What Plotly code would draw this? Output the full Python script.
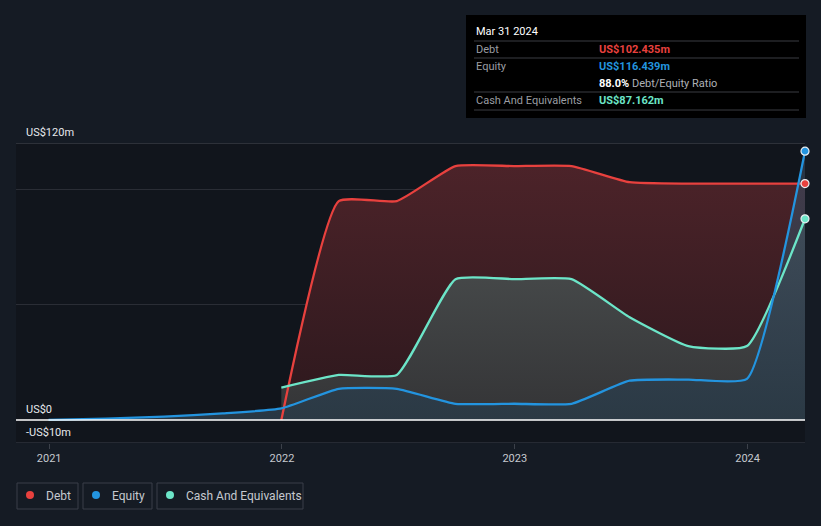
import plotly.graph_objects as go

# ---------------- data (US$ millions) ----------------
equity_dates = ["2020-12-31", "2021-03-31", "2021-06-30", "2021-09-30", "2021-12-31",
                "2022-03-31", "2022-06-30", "2022-09-30", "2022-12-31", "2023-03-31",
                "2023-06-30", "2023-09-30", "2023-12-31", "2024-03-31"]
equity_values = [0.0, 0.6, 1.4, 2.8, 5.0, 13.5, 13.5, 7.0, 7.0, 7.0, 17.0, 17.5, 17.8, 116.439]

debt_dates = ["2021-12-31", "2022-03-31", "2022-06-30", "2022-09-30", "2022-12-31",
              "2023-03-31", "2023-06-30", "2023-09-30", "2023-12-31", "2024-03-31"]
debt_values = [0.0, 94.8, 94.8, 110.0, 110.0, 110.0, 103.0, 102.4, 102.4, 102.435]

cash_dates = ["2021-12-31", "2022-03-31", "2022-06-30", "2022-09-30", "2022-12-31",
              "2023-03-31", "2023-06-30", "2023-09-30", "2023-12-31", "2024-03-31"]
cash_values = [14.0, 19.5, 19.5, 61.0, 61.0, 61.0, 44.5, 32.0, 32.0, 87.162]

y_labels = {120: "US$120m", 0: "US$0", -10: "-US$10m"}
x_ticks = ["2021-01-01", "2022-01-01", "2023-01-01", "2024-01-01"]
x_tick_text = ["2021", "2022", "2023", "2024"]

RED = "#e8413e"
BLUE = "#2394df"
TEAL = "#6ce5c8"
BG = "#151b24"
FONT = "Roboto, 'Open Sans', sans-serif"
SMOOTH = 0.45

W, H = 821, 526
L, R, T, B = 16, 16, 143, 83
PW, PH = W - L - R, H - T - B


def px(x):
    return (x - L) / PW


def py(y):
    return (H - B - y) / PH


series = [
    ("Debt", debt_dates, debt_values, RED,
     [[0, "rgba(44,24,29,1)"], [1, "rgba(76,35,41,1)"]]),
    ("Cash And Equivalents", cash_dates, cash_values, TEAL,
     [[0, "rgba(52,53,55,0.97)"], [1, "rgba(76,82,82,0.95)"]]),
    ("Equity", equity_dates, equity_values, BLUE,
     [[0, "rgba(42,58,70,0.92)"], [1, "rgba(60,78,100,0.55)"]]),
]

fig = go.Figure()

# area fills first
for name, dates, vals, col, cs in series:
    fig.add_trace(go.Scatter(
        x=dates, y=vals, mode="lines", name=name,
        line=dict(color="rgba(0,0,0,0)", width=0, shape="spline", smoothing=SMOOTH),
        fill="tozeroy", fillgradient=dict(type="vertical", colorscale=cs),
        hoverinfo="skip", showlegend=False))

# lines on top
for name, dates, vals, col, cs in series:
    fig.add_trace(go.Scatter(
        x=dates, y=vals, mode="lines", name=name,
        line=dict(color=col, width=2.3, shape="spline", smoothing=SMOOTH),
        hoverinfo="skip", showlegend=False))

# end markers
for name, dates, vals, col, cs in series:
    fig.add_trace(go.Scatter(
        x=[dates[-1]], y=[vals[-1]], mode="markers",
        marker=dict(color=col, size=8, line=dict(color="#e8eef2", width=1.2)),
        cliponaxis=False, hoverinfo="skip", showlegend=False))

shapes = []
annotations = []

# top / zero / bottom lines
shapes.append(dict(type="line", xref="paper", yref="y", x0=0, x1=1, y0=120, y1=120,
                   line=dict(color="#4a4f57", width=1)))
shapes.append(dict(type="line", xref="paper", yref="y", x0=0, x1=1, y0=0, y1=0,
                   line=dict(color="#ffffff", width=1.5), layer="above"))
shapes.append(dict(type="line", xref="paper", yref="y", x0=0, x1=1, y0=-10, y1=-10,
                   line=dict(color="#3c414a", width=1.2)))

for val, txt in y_labels.items():
    annotations.append(dict(xref="paper", yref="y", x=px(24), y=val, text=txt,
                            showarrow=False, xanchor="left", yanchor="bottom", yshift=2,
                            font=dict(family=FONT, size=11, color="#e6e9ed")))

# tooltip box
shapes.append(dict(type="rect", xref="paper", yref="paper", x0=px(466), x1=px(806),
                   y0=py(118), y1=py(15), fillcolor="#000000", line=dict(width=0), layer="above"))
for ly in [41, 58, 92, 110]:
    shapes.append(dict(type="line", xref="paper", yref="paper", x0=px(474), x1=px(799),
                       y0=py(ly), y1=py(ly), line=dict(color="#3a3d42", width=1), layer="above"))

def tip(x, y, text, color, size=11):
    annotations.append(dict(xref="paper", yref="paper", x=px(x), y=py(y), text=text,
                            showarrow=False, xanchor="left", yanchor="middle",
                            font=dict(family=FONT, size=size, color=color)))

tip(474, 31, "Mar 31 2024", "#ffffff", 11)
tip(474, 49, "Debt", "#9a9da2")
tip(597, 49, "<b>US$%.3fm</b>" % debt_values[-1], RED)
tip(474, 66, "Equity", "#9a9da2")
tip(597, 66, "<b>US$%.3fm</b>" % equity_values[-1], BLUE)
ratio = debt_values[-1] / equity_values[-1] * 100
tip(597, 83, "<b><span style='color:#ffffff'>%.1f%%</span></b> Debt/Equity Ratio" % ratio, "#aeb1b6")
tip(474, 100, "Cash And Equivalents", "#9a9da2")
tip(597, 100, "<b>US$%.3fm</b>" % cash_values[-1], TEAL)

# legend boxes
legend_items = [("Debt", RED, 17, 78), ("Equity", BLUE, 83, 152),
                ("Cash And Equivalents", TEAL, 157, 303)]
for name, col, x0, x1 in legend_items:
    shapes.append(dict(type="rect", xref="paper", yref="paper", x0=px(x0), x1=px(x1),
                       y0=py(509), y1=py(483), line=dict(color="#3a3f48", width=1),
                       fillcolor="rgba(0,0,0,0)"))
    shapes.append(dict(type="circle", xref="paper", yref="paper",
                       x0=px(x0 + 9), x1=px(x0 + 17), y0=py(499), y1=py(491),
                       fillcolor=col, line=dict(width=0)))
    annotations.append(dict(xref="paper", yref="paper", x=px(x0 + 27), y=py(495.5), text=name,
                            showarrow=False, xanchor="left", yanchor="middle",
                            font=dict(family=FONT, size=12, color="#c5c9cf")))

fig.update_layout(
    width=W, height=H,
    margin=dict(l=L, r=R, t=T, b=B),
    paper_bgcolor=BG, plot_bgcolor="#11151c",
    showlegend=False,
    shapes=shapes, annotations=annotations,
    xaxis=dict(type="date", range=["2020-11-10", "2024-03-31"],
               tickvals=x_ticks, ticktext=x_tick_text, showgrid=False, zeroline=False,
               ticks="outside", ticklen=5, tickcolor="#3c414a", tickwidth=1,
               tickfont=dict(family=FONT, size=11, color="#c5c9cf"), showline=False,
               fixedrange=True),
    yaxis=dict(range=[-10, 120], tickvals=[50, 100], showticklabels=False,
               gridcolor="#2a2d35", gridwidth=1, zeroline=False, showline=False,
               fixedrange=True, layer="above traces"),
    font=dict(family=FONT),
)

fig.write_html("out.html")
